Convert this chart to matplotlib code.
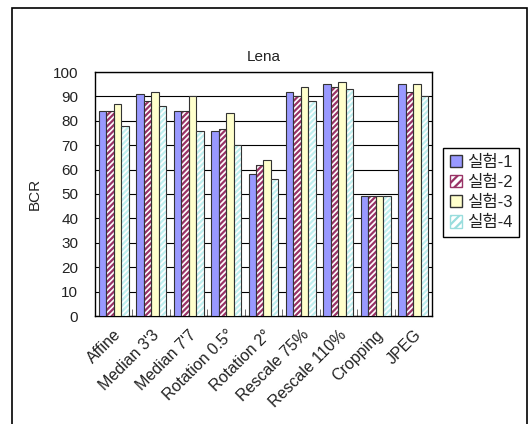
import numpy as np
import matplotlib
matplotlib.use("Agg")
import matplotlib.pyplot as plt
from matplotlib.patches import Rectangle, Patch

plt.rcParams["font.family"] = ["Liberation Sans", "Noto Sans CJK KR", "DejaVu Sans"]
plt.rcParams["hatch.linewidth"] = 1.6

# data
attacks = ["Affine", "Median 3'3", "Median 7'7", "Rotation 0.5°", "Rotation 2°",
           "Rescale 75%", "Rescale 110%", "Cropping", "JPEG"]
exp1 = [84, 91, 84, 76, 58, 92, 95, 49, 95]
exp2 = [84, 88, 84, 76.5, 62, 90, 94, 49, 92]
exp3 = [87, 92, 90, 83, 64, 94, 96, 49, 95]
exp4 = [78, 86, 76, 70, 56, 88, 93, 49, 90]
series_names = ["실험-1", "실험-2", "실험-3", "실험-4"]

txt = "#222222"
fig = plt.figure(figsize=(5.31, 4.24), dpi=100)
fig.patches.append(Rectangle((12 / 531, -0.01), 515 / 531, 1 - 8 / 424 + 0.01,
                             transform=fig.transFigure, fill=False,
                             edgecolor="black", linewidth=1.2))
ax = fig.add_axes([95 / 531, 1 - 316 / 424, 337 / 531, 244 / 424])

x = np.arange(len(attacks))
w = 0.2
offs = [-1.5 * w, -0.5 * w, 0.5 * w, 1.5 * w]

ax.bar(x + offs[0], exp1, w, color="#9999FF", edgecolor="#333333", linewidth=0.8, zorder=3)
ax.bar(x + offs[1], exp2, w, color="white", edgecolor="#993366", hatch="//////", linewidth=0, zorder=3)
ax.bar(x + offs[1], exp2, w, color="none", edgecolor="#333333", linewidth=0.8, zorder=4)
ax.bar(x + offs[2], exp3, w, color="#FFFFCC", edgecolor="#333333", linewidth=0.8, zorder=3)
ax.bar(x + offs[3], exp4, w, color="white", edgecolor="#BFEFEF", hatch="//////", linewidth=0, zorder=3)
ax.bar(x + offs[3], exp4, w, color="none", edgecolor="#333333", linewidth=0.8, zorder=4)

ax.set_xlim(-0.5, len(attacks) - 0.5)
ax.set_ylim(0, 100)
ax.set_yticks(range(0, 101, 10))
ax.grid(axis="y", color="black", linewidth=0.8, zorder=0)
ax.set_xticks(x)
ax.set_xticklabels(attacks, rotation=45, ha="right", rotation_mode="anchor",
                   fontsize=11.5, color=txt)
ax.tick_params(axis="x", length=0, pad=8)
ax.set_xticks(np.arange(0.5, len(attacks) - 1, 1), minor=True)
ax.tick_params(axis="x", which="minor", direction="in", length=5, color="#555555")
ax.tick_params(axis="y", length=0, labelsize=11, labelcolor=txt, pad=12)
for s in ax.spines.values():
    s.set_color("black")
    s.set_linewidth(1.0)

ax.set_title("Lena", fontsize=11, pad=8, color=txt)
ax.set_ylabel("BCR", fontsize=11, labelpad=8, color=txt)

handles = [
    Patch(facecolor="#9999FF", edgecolor="#333333"),
    Patch(facecolor="white", edgecolor="#993366", hatch="////"),
    Patch(facecolor="#FFFFCC", edgecolor="#333333"),
    Patch(facecolor="white", edgecolor="#99DDDD", hatch="////"),
]
leg = fig.legend(handles, series_names, loc="upper left",
                 bbox_to_anchor=(443 / 531, 1 - 148 / 424), borderaxespad=0,
                 fontsize=12, handlelength=0.75, handleheight=0.75,
                 handletextpad=0.3, labelspacing=0.3, borderpad=0.4,
                 fancybox=False, edgecolor="black", framealpha=1)
leg.get_frame().set_linewidth(1.0)
for t in leg.get_texts():
    t.set_color(txt)

fig.savefig("out.png", dpi=100)
